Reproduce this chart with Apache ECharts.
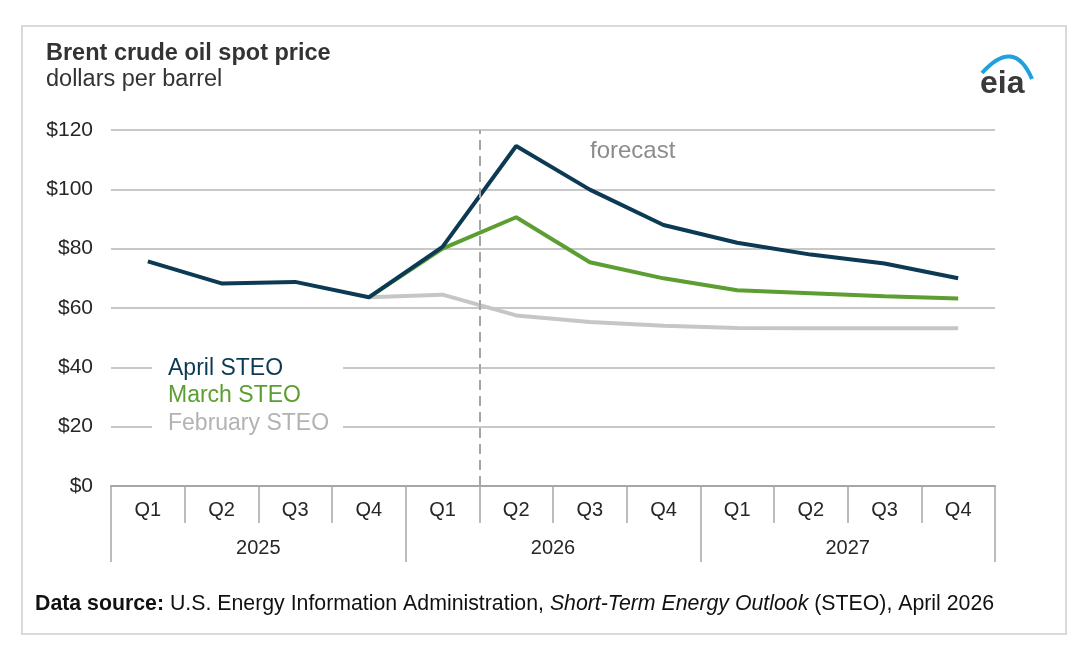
<!DOCTYPE html>
<html>
<head>
<meta charset="utf-8">
<script src="https://cdn.jsdelivr.net/npm/echarts@6/dist/echarts.min.js"></script>
<style>
  html, body { margin: 0; padding: 0; background: #fff; }
  #chart { width: 1084px; height: 652px; }
</style>
</head>
<body>
<div id="chart"></div>
<script>
// 季度 / 年份
var quarters = ['Q1', 'Q2', 'Q3', 'Q4', 'Q1', 'Q2', 'Q3', 'Q4', 'Q1', 'Q2', 'Q3', 'Q4']
var years = ['2025', '2026', '2027']
var yTicks = [0, 20, 40, 60, 80, 100, 120]
// 各期预测 (美元/桶)
var april = [75.7, 68.3, 68.8, 63.6, 80.6, 114.6, 99.9, 88.0, 82.0, 78.0, 75.0, 70.0]
var march = [null, null, null, 63.6, 80.0, 90.6, 75.4, 70.0, 66.0, 65.0, 64.0, 63.2]
var february = [null, null, null, 63.6, 64.5, 57.5, 55.3, 54.0, 53.3, 53.2, 53.2, 53.2]
// 预测开始位置 (第5个季度之后, 即 Q1 2026 与 Q2 2026 之间)
var forecastStart = 5

var font = "'Liberation Sans', Arial, sans-serif"
var colors = { april: '#0c3a54', march: '#5c9e31', february: '#c6c6c6' }

var chart = echarts.init(document.getElementById('chart'))
chart.setOption({
  animation: false,
  textStyle: { fontFamily: font },
  grid: { left: 111, right: 89, top: 130, bottom: 166, containLabel: false },
  legend: {
    orient: 'vertical',
    left: 152,
    top: 352,
    icon: 'none',
    itemWidth: 0,
    itemHeight: 14,
    itemGap: 4.5,
    padding: [5, 14, 5, 11],
    backgroundColor: '#fff',
    selectedMode: false,
    textStyle: { fontSize: 23, lineHeight: 23, fontFamily: font },
    data: [
      { name: 'April STEO', textStyle: { color: colors.april } },
      { name: 'March STEO', textStyle: { color: colors.march } },
      { name: 'February STEO', textStyle: { color: '#b3b3b3' } }
    ]
  },
  xAxis: [
    {
      type: 'category',
      data: quarters,
      boundaryGap: true,
      axisLine: { lineStyle: { color: '#a6a6a6', width: 2 } },
      axisTick: { show: true, interval: 0, length: 37, lineStyle: { color: '#a6a6a6', width: 1.5 } },
      axisLabel: { interval: 0, margin: 14, fontSize: 20, color: '#262626' },
      splitLine: { show: false }
    },
    {
      type: 'category',
      data: years,
      position: 'bottom',
      boundaryGap: true,
      axisLine: { show: false },
      axisTick: { show: true, interval: 0, length: 76, lineStyle: { color: '#a6a6a6', width: 1.5 } },
      axisLabel: { interval: 0, margin: 52, fontSize: 20, color: '#262626' },
      splitLine: { show: false }
    },
    // 隐藏的数值轴, 用来放预测分隔线
    {
      type: 'value',
      min: 0,
      max: quarters.length,
      show: false
    }
  ],
  yAxis: {
    type: 'value',
    min: yTicks[0],
    max: yTicks[yTicks.length - 1],
    interval: 20,
    axisLine: { show: false },
    axisTick: { show: false },
    axisLabel: { margin: 18, fontSize: 21, color: '#262626', formatter: '${value}' },
    splitLine: { lineStyle: { color: '#c8c8c8', width: 2 } }
  },
  series: [
    {
      name: 'February STEO',
      type: 'line',
      data: february,
      symbol: 'none',
      lineStyle: { color: colors.february, width: 4 },
      itemStyle: { color: colors.february }
    },
    {
      name: 'March STEO',
      type: 'line',
      data: march,
      symbol: 'none',
      lineStyle: { color: colors.march, width: 4 },
      itemStyle: { color: colors.march }
    },
    {
      name: 'April STEO',
      type: 'line',
      data: april,
      symbol: 'none',
      lineStyle: { color: colors.april, width: 4 },
      itemStyle: { color: colors.april }
    },
    {
      name: 'forecast',
      type: 'line',
      xAxisIndex: 2,
      data: [],
      silent: true,
      // 预测分隔虚线
      markLine: {
        silent: true,
        symbol: 'none',
        label: { show: false },
        lineStyle: { type: [10, 6], color: '#a6a6a6', width: 2 },
        data: [{ xAxis: forecastStart }]
      }
    }
  ],
  graphic: [
    // 外框
    {
      type: 'rect',
      shape: { x: 22, y: 26, width: 1044, height: 608 },
      style: { fill: 'none', stroke: '#d9d9d9', lineWidth: 2 },
      z: -1
    },
    {
      type: 'text',
      left: 46,
      top: 42,
      style: { text: 'Brent crude oil spot price', font: 'bold 23.5px ' + font, fill: '#333' }
    },
    {
      type: 'text',
      left: 46,
      top: 68,
      style: { text: 'dollars per barrel', font: '23.5px ' + font, fill: '#333' }
    },
    {
      type: 'text',
      left: 590,
      top: 139,
      style: { text: 'forecast', font: '24px ' + font, fill: '#8c8c8c' }
    },
    // eia 标志
    {
      type: 'text',
      left: 980,
      top: 68,
      style: { text: 'eia', font: 'bold 32px ' + font, fill: '#3a3a3a' }
    },
    {
      type: 'bezierCurve',
      shape: { x1: 982, y1: 73, x2: 1032, y2: 79, cpx1: 1014, cpy1: 37 },
      style: { fill: 'none', stroke: '#1ea1dc', lineWidth: 4 }
    },
    {
      type: 'text',
      left: 35,
      top: 594,
      style: {
        text: '{b|Data source:} U.S. Energy Information Administration, {i|Short-Term Energy Outlook} (STEO), April 2026',
        font: '21.3px ' + font,
        fill: '#111',
        rich: {
          b: { fontWeight: 'bold', fontSize: 21.3, fontFamily: font, fill: '#111' },
          i: { fontStyle: 'italic', fontSize: 21.3, fontFamily: font, fill: '#111' }
        }
      }
    }
  ]
})
</script>
</body>
</html>
